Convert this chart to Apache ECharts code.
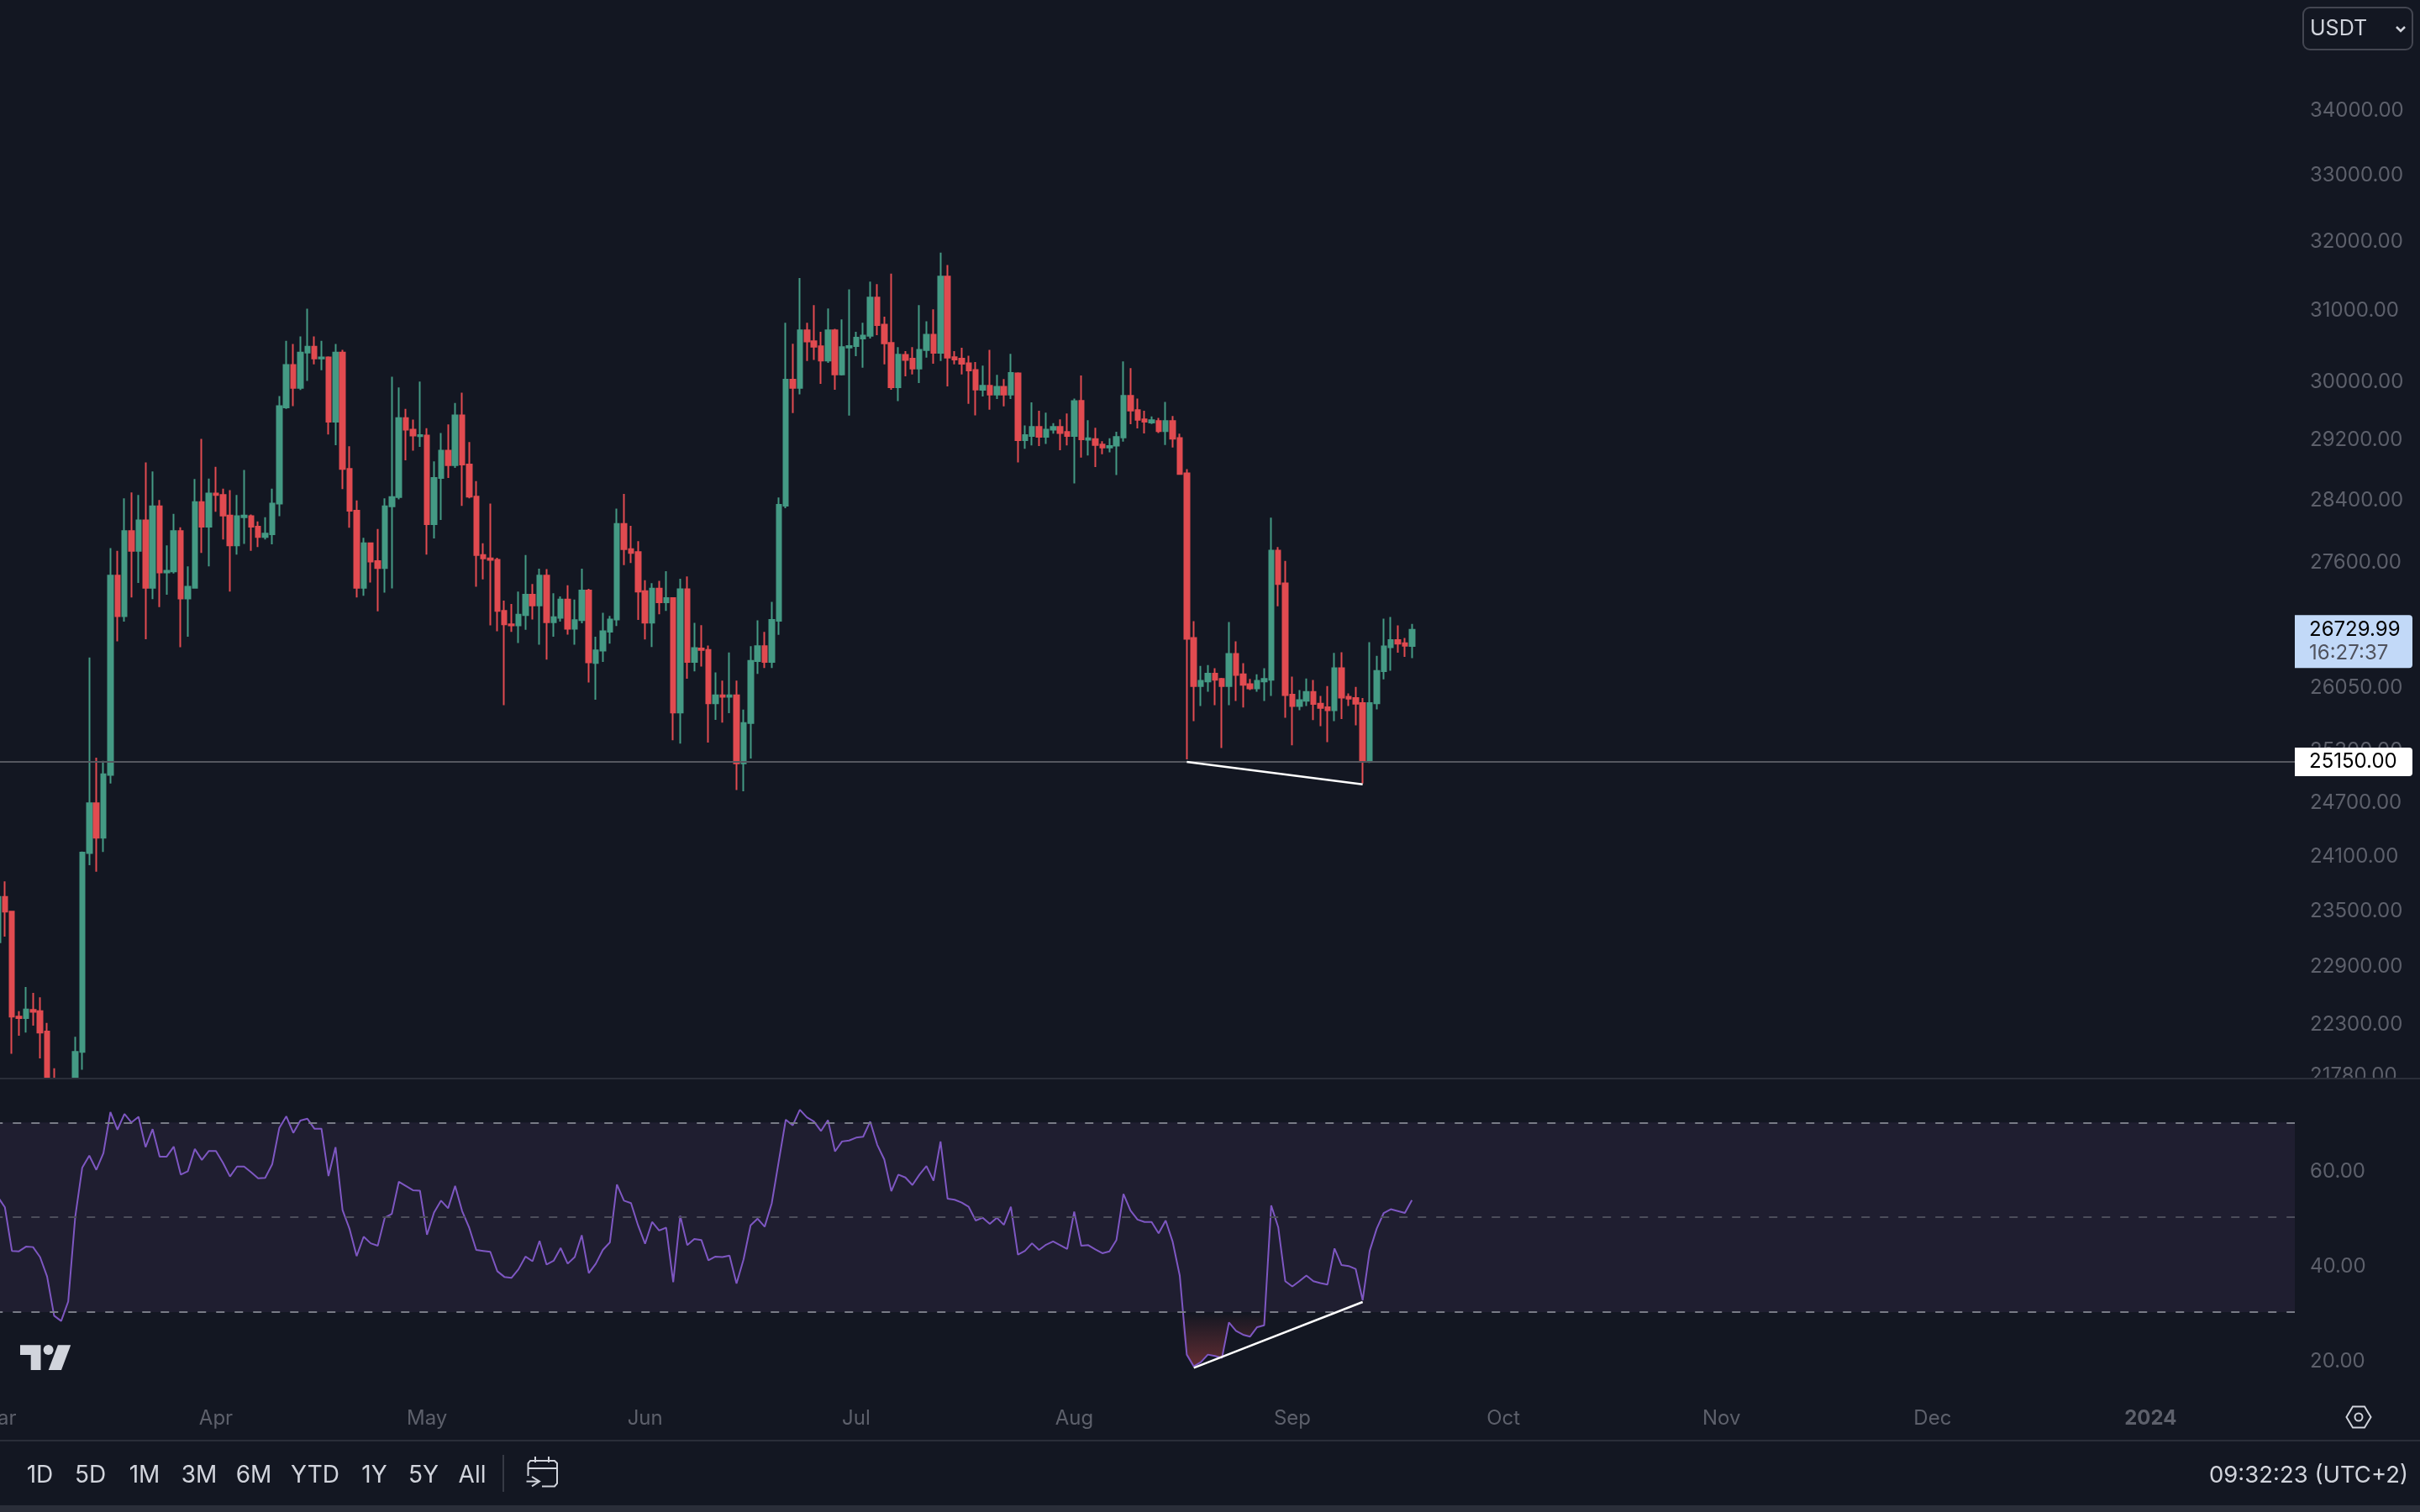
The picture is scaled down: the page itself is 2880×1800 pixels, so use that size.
<!DOCTYPE html>
<html>
<head>
<meta charset="utf-8">
<title>BTCUSDT</title>
<style>
html, body { margin: 0; padding: 0; background: #131722; }
#main { width: 2880px; height: 1800px; }
</style>
<script src="https://cdn.jsdelivr.net/npm/echarts@6/dist/echarts.min.js"></script>
</head>
<body>
<div id="main"></div>
<script>
var firstDay = Date.UTC(2023, 2, 1);
var dayCount = 327;
var monthNames = ['Jan', 'Feb', 'Mar', 'Apr', 'May', 'Jun', 'Jul', 'Aug', 'Sep', 'Oct', 'Nov', 'Dec'];

// candles that run below the pane in the picture stop at its floor (21730)
var opens = [
    23140,23630,23470,22360,22345,22430,22416,22207,21730,20360,
    20190,21730,21998,24113,24674,24285,24999,27406,26897,27976,
    27722,28113,27252,28296,27447,27460,27976,27118,27252,28352,
    28031,28465,28444,28176,27790,28155,28169,28031,27900,27934,
    28331,29619,30204,29885,30376,30459,30293,30308,29422,30376,
    28789,28240,27252,27818,27590,27502,28296,28416,29473,29314,
    29228,29235,28065,28669,29033,28838,29509,28846,28423,27667,
    27625,27605,26964,26796,26783,26910,27165,27031,27406,26823,
    26877,27105,26743,26850,27219,26322,26473,26707,26856,28066,
    27743,27705,27211,26818,27243,27071,27122,25729,27234,26336,
    26500,26482,25839,25933,25916,25933,25131,25605,26345,26528,
    26336,26841,28305,29999,29885,30691,30537,30464,30264,30691,
    30071,30448,30469,30575,30612,31156,30770,30511,29895,30343,
    30290,30154,30411,30627,30374,31460,30311,30290,30226,30133,
    29859,29916,29792,29900,29792,30086,29174,29230,29352,29220,
    29316,29352,29285,29230,29708,29179,29189,29114,29074,29099,
    29210,29776,29581,29454,29413,29433,29296,29433,29203,28730,
    26628,26045,26100,26194,26129,26045,26434,26187,26067,26017,
    26100,26121,27723,27308,25940,25805,25869,25973,25833,25791,
    25755,26259,25915,25901,25840,25157,25837,26223,26515,26603,26563,26530
];
var closes = [
    23630,23470,22360,22345,22433,22411,22196,21730,21729,20190,
    20630,21998,24119,24674,24285,25005,27406,26897,27976,27722,
    28113,27252,28296,27447,27467,27976,27118,27265,28352,28031,
    28465,28444,28176,27790,28169,28176,28031,27900,27941,28331,
    29634,30204,29885,30376,30459,30293,30308,29422,30376,28789,
    28240,27252,27818,27584,27502,28296,28416,29473,29314,29235,
    29242,28065,28669,29033,28838,29509,28846,28423,27667,27625,
    27605,26964,26796,26783,26917,27165,27031,27406,26823,26884,
    27105,26743,26850,27219,26331,26478,26712,26856,28066,27743,
    27695,27206,26818,27243,27071,27122,25729,27234,26336,26505,
    26482,25839,25933,25916,25933,25131,25605,26349,26528,26336,
    26851,28315,29999,29885,30691,30532,30459,30264,30691,30071,
    30453,30469,30585,30617,31156,30765,30506,29895,30348,30274,
    30154,30416,30627,30374,31460,30306,30280,30221,30128,29864,
    29916,29792,29900,29792,30092,29174,29240,29352,29220,29316,
    29352,29270,29230,29703,29184,29199,29109,29074,29094,29215,
    29776,29576,29449,29424,29443,29296,29433,29194,28722,26617,
    26045,26107,26194,26121,26045,26434,26179,26060,26017,26107,
    26129,27723,27300,25937,25805,25876,25973,25830,25784,25755,
    26259,25905,25894,25833,25157,25840,26226,26526,26603,26559,26533,26729.99
];
var lows = [
    23020,23200,21980,22163,22196,22268,21933,21730,21729,19570,
    20050,21730,21818,23977,23906,24125,24900,26586,26830,27131,
    27312,26613,27111,27011,27165,27433,26514,26645,27245,27694,
    27522,28226,27866,27205,27673,27811,27722,27770,27866,27804,
    28169,29597,29634,29856,29982,30211,30130,29249,29105,28521,
    28017,27131,27152,27319,26957,27192,27245,28388,28903,29033,
    29084,27673,27880,28120,28669,28803,28303,28402,27265,27359,
    26783,26711,25816,26704,26567,26730,26857,26547,26364,26645,
    26830,26671,26547,26810,26087,25880,26336,26560,26776,27538,
    27567,26851,26611,26519,26921,26963,25401,25362,26132,26222,
    26281,25375,25640,25609,25720,24824,24811,25187,26191,26263,
    26263,26666,28271,29540,29797,30258,30274,29942,30232,29859,
    30056,29505,30327,30164,30575,30622,30211,29859,29703,30045,
    30071,29952,30306,30221,30258,29905,30211,30071,29667,29510,
    29766,29586,29734,29632,29734,28874,29059,29104,29094,29124,
    29260,29039,29104,28596,28939,28969,28814,28984,29009,28709,
    29154,29388,29332,29265,29393,29270,29109,29074,28710,25177,
    25627,25805,25977,25816,25310,25816,25865,25787,25995,25977,
    25865,25926,27021,25666,25342,25755,25805,25638,25566,25380,
    25627,25652,25805,25577,24900,25136,25766,26125,26230,26449,26398,26383
];
var highs = [
    23880,23800,23480,22416,22668,22606,22561,22295,21834,20370,
    20850,22152,24130,26390,25198,25161,27756,27722,28402,28479,
    28444,28874,28754,28380,27790,28197,28024,27522,28655,29191,
    28662,28817,28528,28507,28444,28775,28190,28100,28155,28528,
    29774,30543,30497,30603,30998,30603,30543,30323,30497,30414,
    29091,28373,27887,27818,28003,28402,30041,29892,29597,29451,
    29974,29336,28889,29271,29386,29678,29819,29148,28627,27818,
    28331,27632,27091,27051,27205,27667,27299,27495,27488,27185,
    27145,27285,27105,27495,27240,26643,26940,26902,28266,28458,
    28042,27844,27348,27310,27339,27462,27131,27367,27396,26814,
    26786,26537,26209,26110,26450,26110,25764,26528,26846,26703,
    27075,28413,30797,30501,31438,30797,31049,30669,31001,30712,
    30845,31274,30669,30797,31388,31350,30883,31503,30453,30396,
    30453,31049,30818,30990,31809,31629,30396,30443,30332,30243,
    30195,30416,30066,30009,30358,30102,29373,29688,29571,29545,
    29403,29454,29535,29740,30056,29443,29342,29159,29199,29286,
    30253,30159,29740,29571,29495,29474,29693,29500,29260,28786,
    26836,26288,26299,26259,26143,26825,26588,26321,26129,26187,
    26259,28148,27769,27593,26158,25995,26136,26118,25926,26045,
    26445,26453,25955,26035,25901,26577,26411,26866,26888,26784,26628,26802
];
var rsi = [
    54.3,52.1,42.9,42.8,43.8,43.7,41.6,37.5,29.2,28.1,
    32.2,50.1,60.5,63.0,60.0,63.5,72.2,68.5,71.8,70.0,
    71.2,64.8,68.6,62.8,62.8,64.9,59.0,59.7,64.4,62.1,
    64.0,64.0,61.5,58.6,60.7,60.7,59.5,58.2,58.3,61.2,
    68.8,71.3,67.8,70.4,70.8,68.7,68.7,58.7,64.8,51.5,
    47.5,41.8,45.9,44.5,44.0,49.9,50.7,57.5,56.6,55.7,
    55.6,46.3,51.0,53.5,51.9,56.6,51.3,47.8,43.1,42.9,
    42.7,38.6,37.4,37.2,39.0,41.7,40.7,45.0,40.0,40.8,
    43.5,40.2,41.6,46.2,38.2,40.2,43.1,44.7,56.9,53.5,
    53.0,48.3,44.4,49.0,47.2,47.8,36.3,50.3,44.1,45.4,
    45.2,40.9,41.7,41.6,41.9,36.0,41.1,48.3,49.7,48.0,
    52.9,61.8,70.6,69.4,72.7,71.1,70.2,68.2,70.5,63.9,
    66.0,66.2,66.8,67.0,70.2,65.3,62.2,55.5,59.0,58.4,
    56.8,59.0,60.8,57.7,66.0,53.9,53.7,53.1,52.2,49.3,
    49.9,48.6,49.9,48.4,52.2,42.1,42.9,44.5,43.1,44.2,
    44.9,44.1,43.3,51.2,44.0,44.1,43.2,42.4,42.8,45.2,
    54.9,51.4,49.5,49.0,49.0,46.6,49.3,44.8,37.7,21.0,
    18.5,19.4,21.0,20.7,20.3,27.8,26.0,25.2,24.8,26.8,
    27.2,52.5,47.9,36.5,35.4,36.5,37.7,36.5,36.1,35.8,
    43.4,39.9,39.7,39.1,32.5,42.9,47.6,50.9,51.7,51.3,50.9,53.6
];

var priceTicks = [34000,33000,32000,31000,30000,29200,28400,27600,26800,26050,25300,24700,24100,23500,22900,22300,21780];
var rsiTicks = [20, 40, 60];
var rsiLevels = [70, 50, 30];
var supportPrice = 25150;
var lastPrice = 26729.99;
var countdown = '16:27:37';
var trendDates = ['2023-08-17', '2023-09-11'];
var trendPrices = [25150, 24890];
var rsiTrendDates = ['2023-08-18', '2023-09-11'];
var rsiTrendValues = [18.2, 32.1];
var rangeButtons = ['1D', '5D', '1M', '3M', '6M', 'YTD', '1Y', '5Y', 'All'];
var rangeButtonX = [47.5, 107.5, 172, 237, 302, 375, 445.5, 504, 562];

var BG = '#131722';
var LABEL = '#5d606b';
var TEXT = '#d1d4dc';
var FONT = 'Inter, Roboto, sans-serif';

var dates = [];
for (var d = 0; d < dayCount; d++) {
    dates.push(new Date(firstDay + d * 86400000).toISOString().slice(0, 10));
}

var candleData = opens.map(function (o, i) {
    return [o, closes[i], lows[i], highs[i]];
});
var oversold = rsi.map(function (v) { return Math.min(v, 30); });

function pairs(xs, ys) {
    return xs.map(function (x, i) { return [x, ys[i]]; });
}

// price scale labels sit a little lower than zrender centres them
function scaleLabel(ticks) {
    return {
        customValues: ticks,
        fontFamily: FONT,
        fontSize: 24,
        margin: 18,
        formatter: function (v) { return '{t|' + Number(v).toFixed(2) + '}'; },
        rich: {
            t: { color: LABEL, fontFamily: FONT, fontSize: 24, padding: [5, 0, 0, 0] }
        }
    };
}

var chart = echarts.init(document.getElementById('main'));

var option = {
    backgroundColor: BG,
    animation: false,
    grid: [
        { left: -6.75, top: 0, width: 2737.75, height: 1284, outerBoundsMode: 'none', containLabel: false },
        { left: -6.75, top: 1285, width: 2737.75, height: 375, outerBoundsMode: 'none', containLabel: false }
    ],
    xAxis: [{
        type: 'category',
        gridIndex: 0,
        data: dates,
        boundaryGap: true,
        axisLine: { show: false },
        axisTick: { show: false },
        axisLabel: { show: false },
        splitLine: { show: false }
    }, {
        type: 'category',
        gridIndex: 1,
        data: dates,
        boundaryGap: true,
        axisLine: { show: false },
        axisTick: { show: false },
        splitLine: { show: false },
        axisLabel: {
            color: LABEL,
            fontFamily: FONT,
            fontSize: 24,
            margin: 17,
            interval: function (index, value) {
                return value.slice(8) === '01';
            },
            formatter: function (value) {
                var m = parseInt(value.slice(5, 7), 10);
                if (m === 1) {
                    return '{year|' + value.slice(0, 4) + '}';
                }
                return monthNames[m - 1];
            },
            rich: {
                year: { color: LABEL, fontFamily: FONT, fontSize: 24, fontWeight: 'bold' }
            }
        }
    }],
    yAxis: [{
        type: 'log',
        gridIndex: 0,
        position: 'right',
        min: 21730,
        max: 35743,
        axisLine: { show: false },
        axisTick: { show: false },
        splitLine: { show: false },
        axisLabel: scaleLabel(priceTicks)
    }, {
        type: 'value',
        gridIndex: 1,
        position: 'right',
        min: 12.6,
        max: 79.1,
        axisLine: { show: false },
        axisTick: { show: false },
        splitLine: { show: false },
        axisLabel: scaleLabel(rsiTicks)
    }],
    series: [{
        name: 'BTCUSDT',
        type: 'candlestick',
        xAxisIndex: 0,
        yAxisIndex: 0,
        data: candleData,
        barWidth: 6,
        clip: true,
        itemStyle: {
            color: '#449a84',
            color0: '#e14b50',
            borderColor: '#449a84',
            borderColor0: '#e14b50',
            borderWidth: 2
        },
        markLine: {
            silent: true,
            symbol: 'none',
            animation: false,
            data: [{
                yAxis: supportPrice,
                lineStyle: { color: '#55575f', width: 2, type: 'solid' },
                label: {
                    show: true,
                    position: 'end',
                    distance: 0,
                    formatter: supportPrice.toFixed(2),
                    color: '#000',
                    fontFamily: FONT,
                    fontSize: 24,
                    width: 110,
                    align: 'left',
                    backgroundColor: '#fff',
                    borderRadius: [0, 4, 4, 0],
                    padding: [6, 13, 4, 17]
                }
            }, {
                yAxis: lastPrice,
                lineStyle: { color: 'rgba(0,0,0,0)', width: 1 },
                label: {
                    show: true,
                    position: 'end',
                    distance: 0,
                    offset: [0, 14],
                    formatter: '{a|' + lastPrice.toFixed(2) + '}\n{b|' + countdown + '}',
                    width: 110,
                    backgroundColor: '#c2d9f8',
                    borderRadius: [0, 4, 4, 0],
                    padding: [4, 13, 3, 17],
                    align: 'left',
                    rich: {
                        a: { color: '#000', fontFamily: FONT, fontSize: 24, lineHeight: 28 },
                        b: { color: '#50535e', fontFamily: FONT, fontSize: 24, lineHeight: 28 }
                    }
                }
            }]
        }
    }, {
        name: 'trend',
        type: 'line',
        xAxisIndex: 0,
        yAxisIndex: 0,
        data: pairs(trendDates, trendPrices),
        symbol: 'none',
        lineStyle: { color: '#ffffff', width: 2.5 },
        z: 5
    }, {
        name: 'oversold',
        type: 'line',
        xAxisIndex: 1,
        yAxisIndex: 1,
        data: oversold,
        symbol: 'none',
        lineStyle: { width: 0 },
        areaStyle: {
            origin: 30,
            opacity: 1,
            color: new echarts.graphic.LinearGradient(0, 0, 0, 1, [
                { offset: 0, color: 'rgba(239,83,80,0)' },
                { offset: 1, color: 'rgba(239,83,80,0.36)' }
            ])
        },
        z: 2
    }, {
        name: 'RSI',
        type: 'line',
        xAxisIndex: 1,
        yAxisIndex: 1,
        data: rsi,
        symbol: 'none',
        lineStyle: { color: '#7e57c2', width: 2 },
        z: 3,
        markArea: {
            silent: true,
            itemStyle: { color: '#1f1e30' },
            data: [[{ yAxis: rsiLevels[0] }, { yAxis: rsiLevels[2] }]]
        },
        markLine: {
            silent: true,
            symbol: 'none',
            animation: false,
            label: { show: false },
            data: [
                { yAxis: rsiLevels[0], lineStyle: { color: '#787b86', width: 2, type: [10, 12] } },
                { yAxis: rsiLevels[1], lineStyle: { color: '#4c4d5a', width: 2, type: [10, 12] } },
                { yAxis: rsiLevels[2], lineStyle: { color: '#787b86', width: 2, type: [10, 12] } }
            ]
        }
    }, {
        name: 'rsi trend',
        type: 'line',
        xAxisIndex: 1,
        yAxisIndex: 1,
        data: pairs(rsiTrendDates, rsiTrendValues),
        symbol: 'none',
        lineStyle: { color: '#ffffff', width: 2.5 },
        z: 5
    }],
    graphic: buildChrome()
};

// everything around the panes: separators, select box, range bar, logo
function buildChrome() {
    var g = [];
    function rect(x, y, w, h, fill) {
        g.push({ type: 'rect', z: 100, silent: true, shape: { x: x, y: y, width: w, height: h }, style: { fill: fill } });
    }
    function text(x, y, str, size, fill, align) {
        g.push({ type: 'text', z: 101, silent: true, x: x, y: y, style: {
            text: str, fill: fill, font: size + 'px ' + FONT, textAlign: align, textVerticalAlign: 'middle'
        } });
    }
    function stroke(points, color, width) {
        g.push({ type: 'polyline', z: 101, silent: true, shape: { points: points },
            style: { stroke: color, lineWidth: width || 2, fill: null } });
    }
    function fill(points, color) {
        g.push({ type: 'polygon', z: 101, silent: true, shape: { points: points }, style: { fill: color } });
    }

    rect(2732, 1285, 148, 26, BG);
    rect(0, 1283, 2880, 2, '#2a2e39');
    rect(0, 1714, 2880, 2, '#2a2e39');
    rect(0, 1792, 2880, 8, '#2a2e39');

    // quote currency select
    g.push({ type: 'rect', z: 101, silent: true,
        shape: { x: 2741, y: 9, width: 130, height: 50, r: 8 },
        style: { fill: BG, stroke: '#434651', lineWidth: 2 } });
    text(2749, 34, 'USDT', 25, TEXT, 'left');
    stroke([[2852, 32], [2857, 37], [2862, 32]], TEXT, 2.5);

    // range buttons
    rangeButtons.forEach(function (b, i) {
        text(rangeButtonX[i], 1756.5, b, 28, TEXT, 'center');
    });
    rect(598, 1732, 2, 44, '#363a45');
    text(2866, 1756.5, '09:32:23 (UTC+2)', 27.5, TEXT, 'right');

    // go-to-date icon
    stroke([[628.5, 1757], [628.5, 1742], [631, 1739], [660, 1739], [663, 1742], [663, 1766], [660, 1769.5], [645, 1769.5]], TEXT);
    stroke([[628.5, 1748], [663, 1748]], TEXT);
    stroke([[637, 1734], [637, 1741]], TEXT);
    stroke([[653, 1734], [653, 1741]], TEXT);
    stroke([[626.5, 1763.6], [642, 1763.6]], TEXT);
    stroke([[633, 1758], [642, 1763.6], [633, 1769.3]], TEXT);

    // settings hexagon
    g.push({ type: 'polygon', z: 101, silent: true,
        shape: { points: [[2792.5, 1687], [2800, 1674.5], [2814, 1674.5], [2821.5, 1687], [2814, 1699.5], [2800, 1699.5]] },
        style: { fill: null, stroke: TEXT, lineWidth: 2 } });
    g.push({ type: 'circle', z: 101, silent: true, shape: { cx: 2807, cy: 1687, r: 4.5 },
        style: { fill: null, stroke: TEXT, lineWidth: 2 } });

    // tradingview mark
    fill([[24, 1601.3], [48.5, 1601.3], [48.5, 1631], [36.7, 1631], [36.7, 1613], [24, 1613]], TEXT);
    g.push({ type: 'circle', z: 101, silent: true, shape: { cx: 57.6, cy: 1607, r: 6 }, style: { fill: TEXT } });
    fill([[68.9, 1601.3], [84.2, 1601.3], [73, 1631], [57.7, 1631]], TEXT);

    return g;
}

chart.setOption(option);
</script>
</body>
</html>
